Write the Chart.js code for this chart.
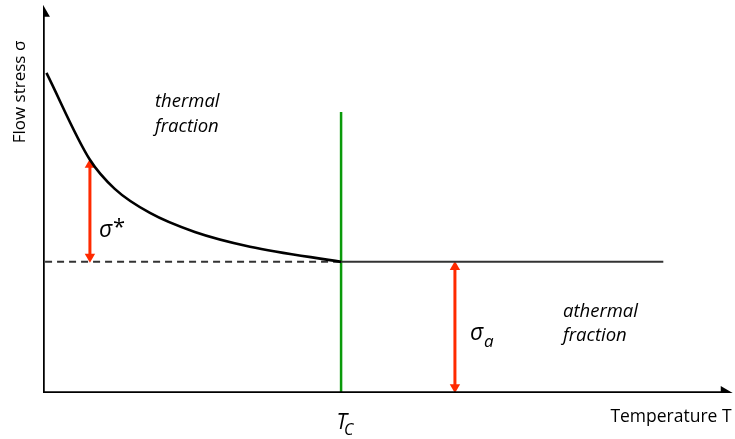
<!DOCTYPE html>
<html>
<head>
<meta charset="utf-8">
<script src="https://cdn.jsdelivr.net/npm/chart.js@4.4.1/dist/chart.umd.min.js"></script>
<style>
  html, body { margin: 0; padding: 0; background: #fff; }
  #wrap { width: 735px; height: 439px; }
</style>
</head>
<body>
<div id="wrap"><canvas id="wykres"></canvas></div>
<script>
// thermal part of flow stress (T, sigma)
var curveT = [0.5, 6.8, 10.4, 15.5, 22.0, 30.0, 43.2];
var curveS = [82.5, 60.1, 52.6, 46.4, 41.5, 37.7, 33.8];

var tc = 43.2;          // critical temperature
var sigmaA = 33.8;      // athermal stress level
var athermalEnd = 89.9; // end of the athermal line
var tcTop = 72.4;       // top of the green line

var arrowStarT = 6.8;   // sigma* arrow
var arrowStarTop = 60.1;
var arrowAT = 59.7;     // sigma_a arrow

var axisMax = 100;

function pts(xs, ys) {
  var out = [];
  for (var i in xs) out.push({ x: xs[i], y: ys[i] });
  return out;
}

var chartdata = {
  datasets: [
    { // y axis
      data: pts([0, 0], [-0.4, axisMax - 2]),
      borderColor: '#000', borderWidth: 3.5,
      pointStyle: 'triangle', pointRadius: [0, 8], pointRotation: [0, 0],
      pointBackgroundColor: '#000', pointBorderWidth: 0
    },
    { // x axis
      data: pts([-0.2, axisMax - 1.2], [0, 0]),
      borderColor: '#000', borderWidth: 3.5,
      pointStyle: 'triangle', pointRadius: [0, 8], pointRotation: [0, 90],
      pointBackgroundColor: '#000', pointBorderWidth: 0
    },
    { // thermal curve
      data: pts(curveT, curveS),
      borderColor: '#000', borderWidth: 2.6, cubicInterpolationMode: 'monotone',
      pointRadius: 0
    },
    { // dashed level
      data: pts([0.3, tc], [sigmaA, sigmaA]),
      borderColor: '#333', borderWidth: 2, borderDash: [7, 5],
      pointRadius: 0
    },
    { // athermal level
      data: pts([tc, athermalEnd], [sigmaA, sigmaA]),
      borderColor: '#333', borderWidth: 2,
      pointRadius: 0
    },
    { // Tc line
      data: pts([tc, tc], [0, tcTop]),
      borderColor: '#0a9a0a', borderWidth: 2.5,
      pointRadius: 0
    },
    { // sigma* arrow
      data: pts([arrowStarT, arrowStarT], [sigmaA + 1.3, arrowStarTop - 1.3]),
      borderColor: '#ff2a00', borderWidth: 3,
      pointStyle: 'triangle', pointRadius: 6, pointRotation: [180, 0],
      pointBackgroundColor: '#ff2a00', pointBorderWidth: 0
    },
    { // sigma_a arrow
      data: pts([arrowAT, arrowAT], [1.5, sigmaA - 1.3]),
      borderColor: '#ff2a00', borderWidth: 3,
      pointStyle: 'triangle', pointRadius: 6, pointRotation: [180, 0],
      pointBackgroundColor: '#ff2a00', pointBorderWidth: 0
    }
  ]
};

var napisy = {
  id: 'napisy',
  afterDraw: function (chart) {
    var c = chart.ctx;
    var xs = chart.scales.x;
    c.save();
    c.fillStyle = '#000';
    c.textBaseline = 'middle';

    c.font = 'italic 18.5px "Open Sans"';
    c.textAlign = 'left';
    c.fillText('thermal', 155, 102);
    c.fillText('fraction', 155, 127);
    c.fillText('athermal', 563, 312);
    c.fillText('fraction', 563, 336);

    c.font = 'italic 23px "Open Sans"';
    c.fillText('σ', 99, 230);
    c.font = '22px "Open Sans"';
    c.fillText('*', 113, 228);
    c.font = 'italic 23px "Open Sans"';
    c.fillText('σ', 470, 333);
    c.font = 'italic 17px "Open Sans"';
    c.fillText('a', 484, 342);

    c.font = 'italic 21px "Open Sans"';
    c.textAlign = 'right';
    c.fillText('T', xs.getPixelForValue(tc) + 6, 423);
    c.font = 'italic 16px "Open Sans"';
    c.textAlign = 'left';
    c.fillText('C', xs.getPixelForValue(tc) + 3, 430);

    c.font = '17.5px "Open Sans"';
    c.textAlign = 'center';
    c.fillText('Temperature T', 671, 417);

    c.font = '17px "Open Sans"';
    c.translate(20, 92);
    c.rotate(-Math.PI / 2);
    c.fillText('Flow stress σ', 0, 0);
    c.restore();
  }
};

new Chart(document.getElementById('wykres'), {
  type: 'line',
  data: chartdata,
  options: {
    responsive: true,
    maintainAspectRatio: false,
    animation: false,
    layout: { autoPadding: false, padding: { left: 43, right: 2, top: 5, bottom: 46 } },
    plugins: { legend: { display: false }, tooltip: { enabled: false } },
    scales: {
      x: { type: 'linear', min: 0, max: axisMax, display: false },
      y: { type: 'linear', min: 0, max: axisMax, display: false }
    }
  },
  plugins: [napisy]
});
</script>
</body>
</html>
